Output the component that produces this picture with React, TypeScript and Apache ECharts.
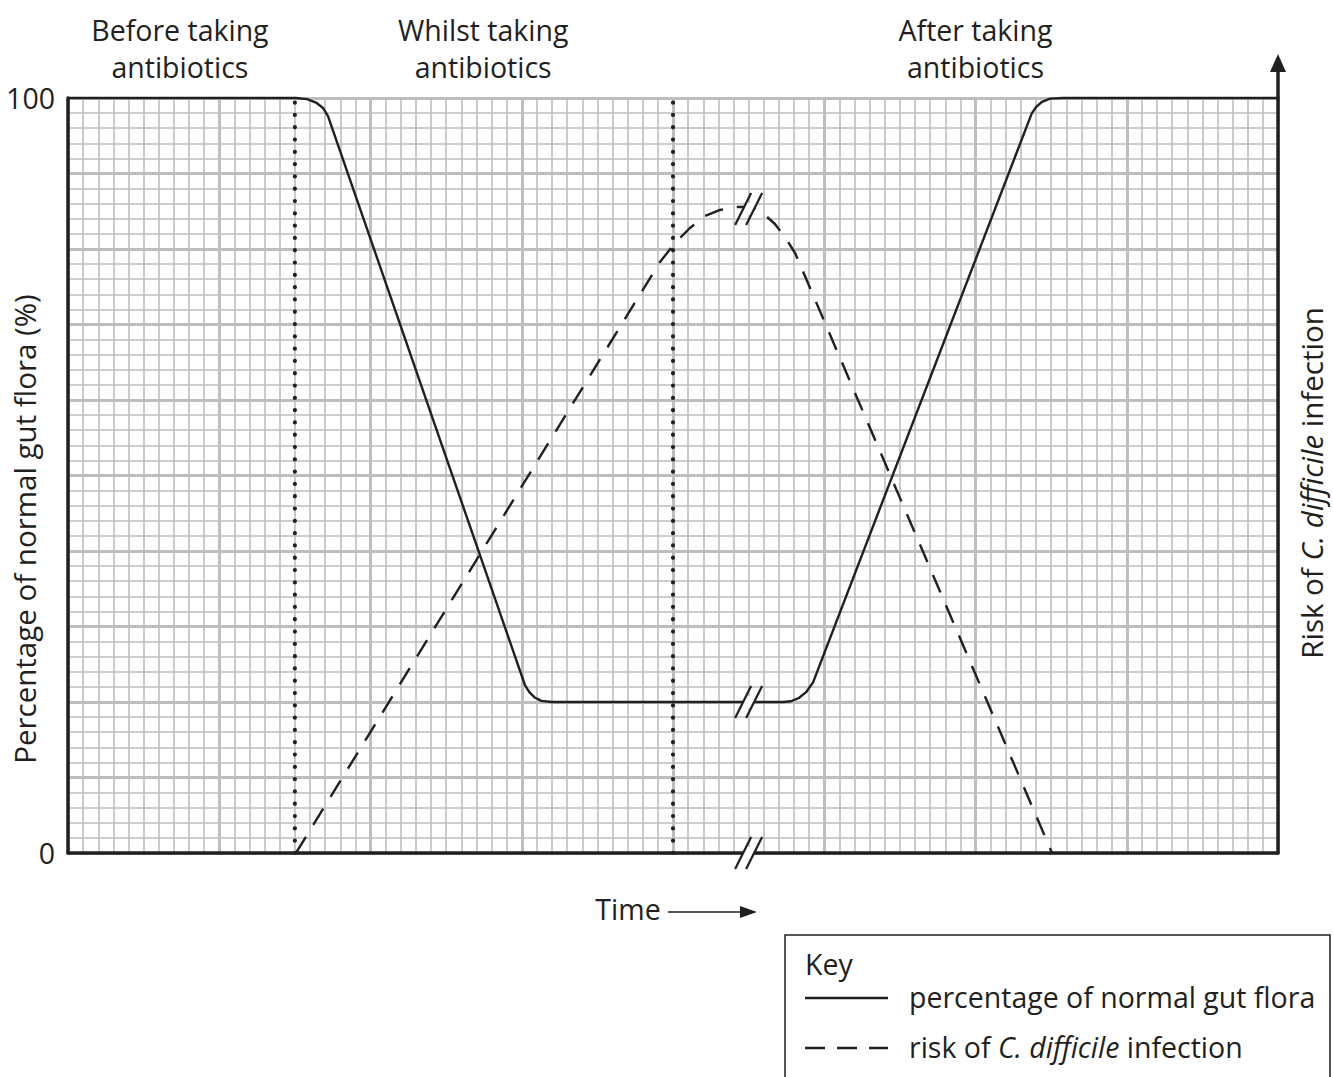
import React, { useEffect, useRef } from 'react';
import * as echarts from 'echarts';

// ---------- data (time in minor grid units 0..80, value in %) ----------
const floraTime = [0, 15.07, 15.8, 16.4, 16.86, 17.19, 30.21, 30.5, 30.85, 31.3, 32.0, 47.27, 47.8, 48.3, 48.8, 49.26, 63.72, 64.0, 64.4, 64.93, 65.79, 80];
const floraValue = [100, 100, 99.85, 99.4, 98.68, 97.6, 22.25, 21.3, 20.6, 20.15, 20, 20, 20.1, 20.5, 21.3, 22.6, 97.97, 98.8, 99.5, 99.92, 100, 100];

const riskTime = [15.07, 39.14, 40.13, 41.12, 42.12, 43.11, 44.1, 44.76, 45.42, 46.08, 46.74, 47.4, 48.07, 65.06];
const riskValue = [0, 78.28, 80.79, 82.78, 84.37, 85.17, 85.56, 85.56, 85.3, 84.5, 83.31, 81.59, 79.47, 0];

const phaseBoundaries = [15, 40];
const breakTime = 45;
const breakValues = [85.3, 20, 0];

const phaseLabels = ['Before taking\nantibiotics', 'Whilst taking\nantibiotics', 'After taking\nantibiotics'];
const phaseLabelTimes = [7.4, 27.45, 60];
const yTickLabels = [0, 100];

const INK = '#231f20';
const GRIDC = '#bcbec0';
const FONT = 'Open Sans';
const FS = 28.5;

const G = { left: 68, top: 98, width: 1210, height: 755 };
const tx = (t: number) => G.left + (t / 80) * G.width;

export default function App() {
  const ref = useRef<HTMLDivElement>(null);
  useEffect(() => {
    if (!ref.current) return;
    const chart = echarts.init(ref.current, null, { renderer: 'svg' });
    const hiddenAxis = { axisTick: { show: false }, axisLabel: { show: false } };
    const flora = floraTime.map((t, i) => [t, floraValue[i]]);
    const risk = riskTime.map((t, i) => [t, riskValue[i]]);

    const graphic: any[] = [];
    phaseLabels.forEach((lab, i) => {
      graphic.push({
        type: 'text', x: tx(phaseLabelTimes[i]), y: 48,
        style: { text: lab, font: `${FS}px "${FONT}"`, fill: INK, align: 'center', verticalAlign: 'middle', lineHeight: 37 },
      });
    });
    graphic.push(
      {
        type: 'text', x: 24, y: 529, rotation: Math.PI / 2,
        style: { text: 'Percentage of normal gut flora (%)', font: `29.5px "${FONT}"`, fill: INK, align: 'center', verticalAlign: 'middle' },
      },
      {
        type: 'text', x: 1311, y: 483, rotation: Math.PI / 2,
        style: {
          text: '{n|Risk of }{i|C. difficile}{n| infection}', align: 'center', verticalAlign: 'middle',
          rich: {
            n: { fontFamily: FONT, fontSize: 29.5, fill: INK, color: INK },
            i: { fontFamily: FONT, fontSize: 29.5, fontStyle: 'italic', fill: INK, color: INK },
          },
        },
      },
      // right axis arrow extension
      { type: 'line', shape: { x1: 1278, y1: 99, x2: 1278, y2: 70 }, style: { stroke: INK, lineWidth: 3.5 } },
      { type: 'polygon', shape: { points: [[1278, 54], [1270, 72], [1286, 72]] }, style: { fill: INK } },
      // Time arrow
      { type: 'text', x: 628, y: 909, style: { text: 'Time', font: `${FS}px "${FONT}"`, fill: INK, align: 'center', verticalAlign: 'middle' } },
      { type: 'line', shape: { x1: 668, y1: 912, x2: 742, y2: 912 }, style: { stroke: INK, lineWidth: 1.5 } },
      { type: 'polygon', shape: { points: [[740, 906], [740, 918], [757, 912]] }, style: { fill: INK } },
      // Key box
      { type: 'rect', shape: { x: 785, y: 935, width: 545, height: 170 }, style: { fill: 'none', stroke: INK, lineWidth: 1.5 } },
      { type: 'text', x: 805, y: 964, style: { text: 'Key', font: `${FS}px "${FONT}"`, fill: INK, align: 'left', verticalAlign: 'middle' } },
      { type: 'line', shape: { x1: 805, y1: 998, x2: 888, y2: 998 }, style: { stroke: INK, lineWidth: 2.3 } },
      { type: 'text', x: 909, y: 997, style: { text: 'percentage of normal gut flora', font: `${FS}px "${FONT}"`, fill: INK, align: 'left', verticalAlign: 'middle' } },
      { type: 'line', shape: { x1: 805, y1: 1048, x2: 888, y2: 1048 }, style: { stroke: INK, lineWidth: 2.3, lineDash: [20, 12] } },
      {
        type: 'text', x: 909, y: 1047,
        style: {
          text: '{n|risk of }{i|C. difficile}{n| infection}', align: 'left', verticalAlign: 'middle',
          rich: {
            n: { fontFamily: FONT, fontSize: FS, fill: INK, color: INK },
            i: { fontFamily: FONT, fontSize: FS, fontStyle: 'italic', fill: INK, color: INK },
          },
        },
      },
    );

    chart.setOption({
      animation: false,
      backgroundColor: '#fff',
      grid: { left: G.left, top: G.top, width: G.width, height: G.height },
      xAxis: [
        { type: 'value', position: 'bottom', min: 0, max: 80, interval: 1, z: 0, axisLine: { show: false }, ...hiddenAxis, splitLine: { show: true, lineStyle: { color: GRIDC, width: 1.6 } } },
        { type: 'value', position: 'bottom', min: 0, max: 80, interval: 10, z: 0, axisLine: { show: false }, ...hiddenAxis, splitLine: { show: true, lineStyle: { color: GRIDC, width: 3 } } },
        { type: 'value', position: 'bottom', min: 0, max: 80, interval: 80, z: 1, axisLine: { show: true, onZero: false, lineStyle: { color: INK, width: 3.5 } }, ...hiddenAxis, splitLine: { show: false } },
      ],
      yAxis: [
        { type: 'value', position: 'left', min: 0, max: 100, interval: 2, z: 0, axisLine: { show: false }, ...hiddenAxis, splitLine: { show: true, lineStyle: { color: GRIDC, width: 1.6 } } },
        {
          type: 'value', position: 'left', min: 0, max: 100, interval: 10, z: 0, axisLine: { show: false }, axisTick: { show: false },
          axisLabel: {
            show: true, margin: 13, fontFamily: FONT, fontSize: FS, color: INK,
            formatter: (v: number) => (yTickLabels.includes(v) ? String(v) : ''),
          },
          splitLine: { show: true, lineStyle: { color: GRIDC, width: 3 } },
        },
        { type: 'value', min: 0, max: 100, interval: 100, z: 1, position: 'left', axisLine: { show: true, onZero: false, lineStyle: { color: INK, width: 3.5 } }, ...hiddenAxis, splitLine: { show: false } },
        { type: 'value', min: 0, max: 100, interval: 100, z: 1, position: 'right', axisLine: { show: true, onZero: false, lineStyle: { color: INK, width: 3.5 } }, ...hiddenAxis, splitLine: { show: false } },
      ],
      series: [
        ...phaseBoundaries.map((t) => ({
          type: 'line', xAxisIndex: 0, yAxisIndex: 0, clip: false, symbol: 'none', z: 2,
          data: [[t, 0], [t, 100]],
          lineStyle: { color: INK, width: 4.2, type: [0.1, 12.2], cap: 'round' },
        })),
        {
          name: 'percentage of normal gut flora', type: 'line', xAxisIndex: 0, yAxisIndex: 0, clip: false, symbol: 'none', z: 3,
          data: flora, lineStyle: { color: INK, width: 2.4, cap: 'round', join: 'round' },
        },
        {
          name: 'risk of C. difficile infection', type: 'line', xAxisIndex: 0, yAxisIndex: 0, clip: false, symbol: 'none', z: 3,
          data: risk, lineStyle: { color: INK, width: 2.4, type: [19, 14] },
        },
        {
          type: 'custom', xAxisIndex: 0, yAxisIndex: 0, clip: false, z: 10,
          data: breakValues.map((v) => [breakTime, v]),
          renderItem: (_p: any, api: any) => {
            const c = api.coord([api.value(0), api.value(1)]);
            const off = 5.5, dx = 8, dy = 16;
            const s1 = { x1: c[0] - off - dx, y1: c[1] + dy, x2: c[0] - off + dx, y2: c[1] - dy };
            const s2 = { x1: c[0] + off - dx, y1: c[1] + dy, x2: c[0] + off + dx, y2: c[1] - dy };
            return {
              type: 'group',
              children: [
                { type: 'polygon', shape: { points: [[c[0] - off - 3, c[1] + 6], [c[0] - off + 3, c[1] - 6], [c[0] + off + 3, c[1] - 6], [c[0] + off - 3, c[1] + 6]] }, style: { fill: '#fff' } },
                { type: 'line', shape: s1, style: { stroke: INK, lineWidth: 2.3 } },
                { type: 'line', shape: s2, style: { stroke: INK, lineWidth: 2.3 } },
              ],
            };
          },
        },
      ],
      graphic,
    });
    return () => chart.dispose();
  }, []);
  return <div ref={ref} style={{ position: 'absolute', left: 0, top: 0, width: 1333, height: 1077 }} />;
}
